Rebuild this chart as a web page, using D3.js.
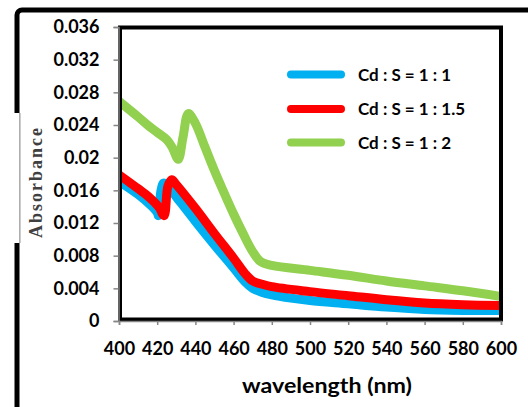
<!DOCTYPE html>
<html>
<head>
<meta charset="utf-8">
<script src="https://cdn.jsdelivr.net/npm/d3@7"></script>
<style>
  html, body { margin: 0; padding: 0; background: #fff; }
  svg { display: block; }
</style>
</head>
<body>
<svg id="chart" width="528" height="407"></svg>
<script>
// Absorbance spectra of CdS samples for three Cd : S ratios
const seriesNames = ["Cd : S = 1 : 1", "Cd : S = 1 : 1.5", "Cd : S = 1 : 2"];
const seriesColors = ["#00b0f0", "#ff0000", "#92d050"];

const wlRatio1 = [400, 410, 416, 420, 420.6, 422, 423.4, 426, 430, 440, 450, 460, 466, 470, 475, 480, 490, 500, 520, 540, 560, 580, 600];
const absRatio1 = [0.0171, 0.0155, 0.0143, 0.0133, 0.0129, 0.0160, 0.0169, 0.0164, 0.0152, 0.0122, 0.0093, 0.0065, 0.0048, 0.0040, 0.0035, 0.0032, 0.0028, 0.0025, 0.0021, 0.0017, 0.0014, 0.0013, 0.0013];

const wlRatio15 = [400, 410, 416, 421, 423.6, 425.6, 427.6, 430, 440, 450, 460, 466, 470, 475, 480, 500, 520, 540, 560, 580, 600];
const absRatio15 = [0.0179, 0.0162, 0.0151, 0.0139, 0.0129, 0.0165, 0.0173, 0.0167, 0.0138, 0.0107, 0.0077, 0.0058, 0.0049, 0.0045, 0.0042, 0.0036, 0.0031, 0.0026, 0.0022, 0.0020, 0.0019];

const wlRatio2 = [400, 410, 416, 420, 425, 428, 431, 433.5, 436.3, 440, 445, 450, 455, 460, 465, 470, 474, 480, 500, 520, 540, 560, 580, 600];
const absRatio2 = [0.0269, 0.0250, 0.0238, 0.0231, 0.0222, 0.0212, 0.0198, 0.0225, 0.0254, 0.0242, 0.0213, 0.0184, 0.0157, 0.0131, 0.0107, 0.0085, 0.0073, 0.0068, 0.0062, 0.0056, 0.0049, 0.0043, 0.0037, 0.0030];

const xTicks = [400, 420, 440, 460, 480, 500, 520, 540, 560, 580, 600];
const yTicks = [0, 0.004, 0.008, 0.012, 0.016, 0.02, 0.024, 0.028, 0.032, 0.036];
const yTickLabels = ["0", "0.004", "0.008", "0.012", "0.016", "0.02", "0.024", "0.028", "0.032", "0.036"];

const series = [
  { name: seriesNames[0], color: seriesColors[0], wl: wlRatio1, abs: absRatio1 },
  { name: seriesNames[1], color: seriesColors[1], wl: wlRatio15, abs: absRatio15 },
  { name: seriesNames[2], color: seriesColors[2], wl: wlRatio2, abs: absRatio2 }
];

const svg = d3.select("#chart");
const tickFont = "Lato, 'Open Sans', sans-serif";

const x = d3.scaleLinear().domain([400, 600]).range([119, 501]);
const y = d3.scaleLinear().domain([0, 0.036]).range([321, 27]);

// outer chart frame (runs off the right and bottom edges)
svg.append("rect")
  .attr("x", 17).attr("y", 10)
  .attr("width", 560).attr("height", 460)
  .attr("rx", 5)
  .attr("fill", "none")
  .attr("stroke", "#000")
  .attr("stroke-width", 5);

// axis-title box covers part of the frame on the left
svg.append("rect")
  .attr("x", 12).attr("y", 113).attr("width", 7.5).attr("height", 130)
  .attr("fill", "#fff");
svg.append("line")
  .attr("x1", 20).attr("x2", 20).attr("y1", 113).attr("y2", 243)
  .attr("stroke", "#9a9a9a").attr("stroke-width", 1);

// clip region for the spectra
svg.append("clipPath").attr("id", "plotClip")
  .append("rect").attr("x", 120).attr("y", 27).attr("width", 381).attr("height", 294);

const line = d3.line()
  .x(d => x(d[0]))
  .y(d => y(d[1]))
  .curve(d3.curveCatmullRom.alpha(0.5));

const plot = svg.append("g").attr("clip-path", "url(#plotClip)");
series.forEach(s => {
  const pts = s.wl.map((w, i) => [w, s.abs[i]]);
  plot.append("path")
    .datum(pts)
    .attr("d", line)
    .attr("fill", "none")
    .attr("stroke", s.color)
    .attr("stroke-width", 9)
    .attr("stroke-linejoin", "round");
});

// plot area border
svg.append("rect")
  .attr("x", 120).attr("y", 27.5)
  .attr("width", 381).attr("height", 292)
  .attr("fill", "none")
  .attr("stroke", "#000")
  .attr("stroke-width", 4);

// axes
const yAxis = d3.axisLeft(y)
  .tickValues(yTicks)
  .tickFormat((d, i) => yTickLabels[i])
  .tickSize(5)
  .tickPadding(14);
const gy = svg.append("g").attr("transform", "translate(118.5,0)").call(yAxis);

const xAxis = d3.axisBottom(x)
  .tickValues(xTicks)
  .tickFormat(d3.format("d"))
  .tickSize(4)
  .tickPadding(17);
const gx = svg.append("g").attr("transform", "translate(0,321)").call(xAxis);

[gx, gy].forEach(g => {
  g.select(".domain").attr("stroke", "#868686").attr("stroke-width", 1.5);
  g.selectAll(".tick line").attr("stroke", "#868686").attr("stroke-width", 1.5);
  g.selectAll(".tick text")
    .attr("fill", "#000")
    .style("font-family", tickFont)
    .style("font-weight", "bold")
    .style("font-size", "18px");
});

// axis titles
svg.append("text")
  .attr("x", 327).attr("y", 393)
  .attr("text-anchor", "middle")
  .style("font-family", tickFont)
  .style("font-weight", "bold")
  .style("font-size", "21px")
  .attr("fill", "#000")
  .attr("textLength", 170)
  .attr("lengthAdjust", "spacingAndGlyphs")
  .text("wavelength (nm)");

svg.append("text")
  .attr("transform", "translate(42,183) rotate(-90)")
  .attr("text-anchor", "middle")
  .style("font-family", "'Liberation Serif', 'Times New Roman', serif")
  .style("font-weight", "bold")
  .style("font-size", "18px")
  .attr("fill", "#404040")
  .attr("textLength", 110)
  .attr("lengthAdjust", "spacing")
  .text("Absorbance");

// legend
const legendY = [74.5, 109, 142.5];
const legend = svg.append("g");
series.forEach((s, i) => {
  legend.append("line")
    .attr("x1", 291).attr("x2", 341)
    .attr("y1", legendY[i]).attr("y2", legendY[i])
    .attr("stroke", s.color)
    .attr("stroke-width", 8)
    .attr("stroke-linecap", "round");
  legend.append("text")
    .attr("x", 358).attr("y", legendY[i] + 6)
    .style("font-family", tickFont)
    .style("font-weight", "bold")
    .style("font-size", "17px")
    .attr("fill", "#000")
    .text(s.name);
});
</script>
</body>
</html>
